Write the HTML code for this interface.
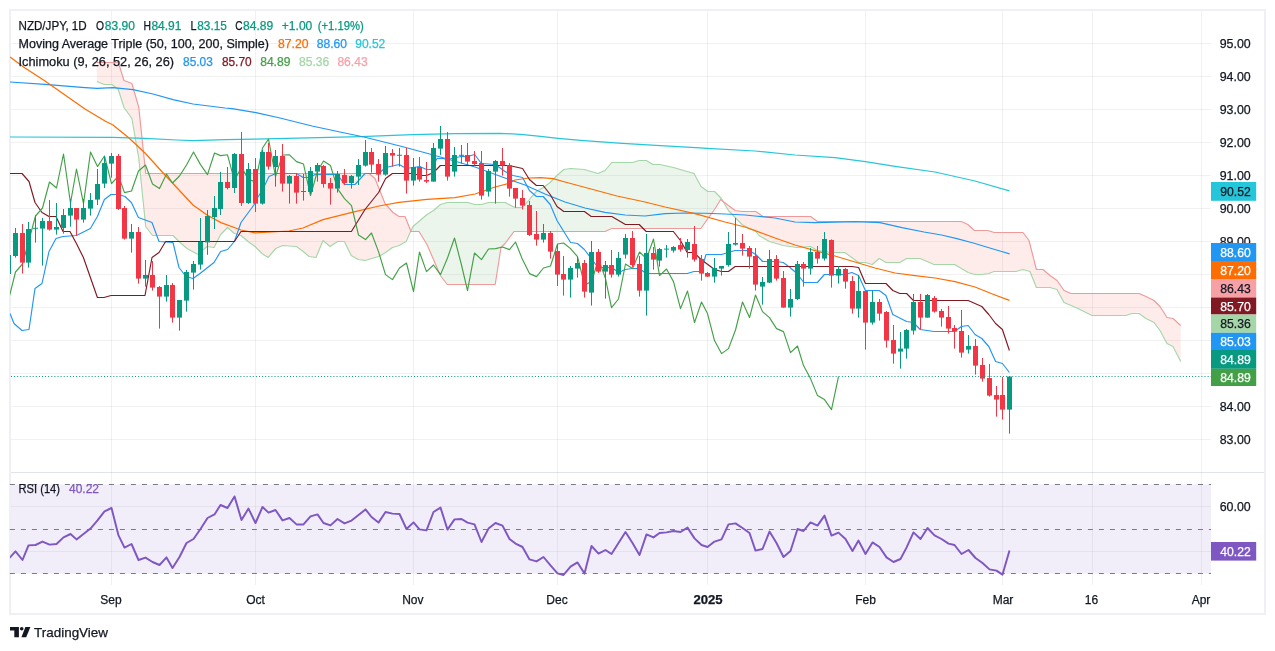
<!DOCTYPE html>
<html><head><meta charset="utf-8"><title>NZD/JPY</title>
<style>html,body{margin:0;padding:0;background:#fff;}body{width:1275px;height:651px;overflow:hidden;font-family:"Liberation Sans",sans-serif;}</style></head><body>
<svg width="1275" height="651" viewBox="0 0 1275 651" style="display:block;will-change:transform">
<defs>
<clipPath id="mainclip"><rect x="10" y="11" width="1201" height="461"/></clipPath>
<clipPath id="rsiclip"><rect x="10" y="473" width="1201" height="112"/></clipPath>
</defs>
<rect width="1275" height="651" fill="#ffffff"/>
<line x1="10" y1="472.5" x2="1265" y2="472.5" stroke="#e0e3eb" stroke-width="1"/>
<rect x="10" y="10" width="1255" height="604" fill="none" stroke="#eef0f5" stroke-width="2"/>
<line x1="11" y1="439.5" x2="1211" y2="439.5" stroke="rgba(42,46,57,0.065)" stroke-width="1"/>
<line x1="11" y1="406.5" x2="1211" y2="406.5" stroke="rgba(42,46,57,0.065)" stroke-width="1"/>
<line x1="11" y1="373.5" x2="1211" y2="373.5" stroke="rgba(42,46,57,0.065)" stroke-width="1"/>
<line x1="11" y1="340.5" x2="1211" y2="340.5" stroke="rgba(42,46,57,0.065)" stroke-width="1"/>
<line x1="11" y1="307.5" x2="1211" y2="307.5" stroke="rgba(42,46,57,0.065)" stroke-width="1"/>
<line x1="11" y1="274.5" x2="1211" y2="274.5" stroke="rgba(42,46,57,0.065)" stroke-width="1"/>
<line x1="11" y1="241.5" x2="1211" y2="241.5" stroke="rgba(42,46,57,0.065)" stroke-width="1"/>
<line x1="11" y1="208.5" x2="1211" y2="208.5" stroke="rgba(42,46,57,0.065)" stroke-width="1"/>
<line x1="11" y1="175.5" x2="1211" y2="175.5" stroke="rgba(42,46,57,0.065)" stroke-width="1"/>
<line x1="11" y1="142.5" x2="1211" y2="142.5" stroke="rgba(42,46,57,0.065)" stroke-width="1"/>
<line x1="11" y1="109.5" x2="1211" y2="109.5" stroke="rgba(42,46,57,0.065)" stroke-width="1"/>
<line x1="11" y1="76.5" x2="1211" y2="76.5" stroke="rgba(42,46,57,0.065)" stroke-width="1"/>
<line x1="11" y1="43.5" x2="1211" y2="43.5" stroke="rgba(42,46,57,0.065)" stroke-width="1"/>
<line x1="11" y1="506.5" x2="1211" y2="506.5" stroke="rgba(42,46,57,0.065)" stroke-width="1"/>
<line x1="11" y1="551.5" x2="1211" y2="551.5" stroke="rgba(42,46,57,0.065)" stroke-width="1"/>
<line x1="111.5" y1="11" x2="111.5" y2="585" stroke="rgba(42,46,57,0.065)" stroke-width="1"/>
<line x1="255.5" y1="11" x2="255.5" y2="585" stroke="rgba(42,46,57,0.065)" stroke-width="1"/>
<line x1="413.5" y1="11" x2="413.5" y2="585" stroke="rgba(42,46,57,0.065)" stroke-width="1"/>
<line x1="557.5" y1="11" x2="557.5" y2="585" stroke="rgba(42,46,57,0.065)" stroke-width="1"/>
<line x1="707.5" y1="11" x2="707.5" y2="585" stroke="rgba(42,46,57,0.065)" stroke-width="1"/>
<line x1="865.5" y1="11" x2="865.5" y2="585" stroke="rgba(42,46,57,0.065)" stroke-width="1"/>
<line x1="1002.5" y1="11" x2="1002.5" y2="585" stroke="rgba(42,46,57,0.065)" stroke-width="1"/>
<line x1="1092.5" y1="11" x2="1092.5" y2="585" stroke="rgba(42,46,57,0.065)" stroke-width="1"/>
<line x1="1201.5" y1="11" x2="1201.5" y2="585" stroke="rgba(42,46,57,0.065)" stroke-width="1"/>
<rect x="11" y="484.5" width="1200" height="89" fill="#7e57c2" fill-opacity="0.1"/>
<line x1="9.9" y1="484.5" x2="1211" y2="484.5" stroke="#787b86" stroke-width="1" stroke-dasharray="5 6"/>
<line x1="9.9" y1="529.5" x2="1211" y2="529.5" stroke="#787b86" stroke-width="1" stroke-dasharray="5 6"/>
<line x1="9.9" y1="573.5" x2="1211" y2="573.5" stroke="#787b86" stroke-width="1" stroke-dasharray="5 6"/>
<g clip-path="url(#mainclip)">
<polygon points="96.9,81.8 104.2,84.0 112.0,84.0 118.3,89.6 124.0,107.0 131.9,118.0 138.8,158.0 145.7,226.0 152.5,235.0 173.0,235.5 180.0,242.0 187.0,248.0 198.0,254.0 207.0,246.0 214.0,247.0 220.6,234.6 227.6,227.4 234.4,233.0 241.0,235.0 248.0,241.0 255.0,246.6 262.0,253.0 268.0,257.4 275.8,248.0 282.6,245.0 296.4,246.0 303.2,251.0 309.0,256.6 316.0,257.4 323.0,240.0 330.0,246.4 337.6,241.6 344.4,241.6 351.2,255.0 358.2,259.6 365.0,260.4 369.0,259.1 375.0,257.2 378.6,256.0 379.0,255.8 385.0,252.3 385.6,252.0 392.4,247.0 393.0,246.8 399.0,245.1 399.2,245.0 405.0,241.7 406.2,241.0 410.8,230.5 410.8,230.5 406.2,219.5 405.0,216.6 399.2,216.0 399.0,216.0 393.0,212.0 392.4,211.4 385.6,204.1 385.0,203.5 379.0,188.0 378.6,187.0 375.0,178.0 369.0,173.4 365.0,173.4 358.2,173.4 351.2,173.4 344.4,173.4 337.6,173.3 330.0,173.3 323.0,173.3 316.0,173.3 309.0,173.3 303.2,173.3 296.4,173.3 282.6,173.2 275.8,173.2 268.0,173.2 262.0,173.2 255.0,173.2 248.0,173.2 241.0,173.2 234.4,173.2 227.6,173.1 220.6,173.1 214.0,173.1 207.0,173.1 198.0,173.1 187.0,173.1 180.0,173.1 173.0,173.0 152.5,173.0 145.7,173.0 138.8,107.0 131.9,83.3 124.0,80.2 118.3,62.0 112.0,62.0 104.2,62.0 96.9,62.0" fill="#f44336" fill-opacity="0.1"/>
<polygon points="410.8,230.5 411.0,230.0 413.0,226.0 419.0,221.1 427.0,214.5 433.6,210.5 440.4,204.2 447.2,202.0 467.8,201.6 474.6,204.4 481.4,204.0 488.4,202.4 495.2,202.6 501.0,202.9 505.0,203.0 509.0,204.0 514.0,206.8 515.0,207.4 522.6,207.6 529.4,199.0 536.4,191.0 543.2,187.0 550.2,182.0 557.0,175.0 563.8,169.6 570.6,168.4 584.4,169.6 598.0,173.2 605.0,170.0 611.8,162.6 632.4,162.6 639.2,160.6 646.2,160.0 653.0,164.4 659.8,164.4 673.4,167.0 694.0,173.0 701.0,186.0 707.8,191.4 714.6,191.4 720.6,197.2 721.4,198.0 723.3,201.2 723.3,201.2 721.4,199.7 720.6,199.0 714.6,209.0 707.8,218.0 701.0,228.4 694.0,228.4 673.4,228.4 659.8,228.4 653.0,228.4 646.2,228.4 639.2,228.4 632.4,228.4 611.8,228.4 605.0,231.4 598.0,231.4 584.4,231.4 570.6,231.4 563.8,231.4 557.0,231.4 550.2,231.4 543.2,231.4 536.4,231.4 529.4,231.4 522.6,231.4 515.0,231.4 514.0,231.4 509.0,237.8 505.0,243.0 501.0,247.0 495.2,284.4 488.4,284.4 481.4,284.4 474.6,284.4 467.8,284.4 447.2,284.4 440.4,275.0 433.6,259.3 427.0,244.0 419.0,231.4 413.0,231.1 411.0,231.0 410.8,230.5" fill="#43a047" fill-opacity="0.1"/>
<polygon points="723.3,201.2 728.4,210.0 735.2,217.5 742.0,224.0 749.0,228.0 755.0,230.5 755.8,231.4 759.0,235.0 763.0,237.3 769.4,241.0 776.4,243.0 783.2,245.6 797.0,247.0 810.6,246.0 817.4,250.6 831.2,252.0 844.8,252.6 851.8,257.0 858.6,262.4 865.4,262.0 872.2,264.0 879.2,258.6 886.0,262.0 899.8,262.6 906.6,258.6 920.2,258.4 934.0,264.0 954.6,264.6 955.8,265.2 961.3,267.9 961.4,268.0 967.8,271.8 968.2,272.0 974.4,273.8 975.0,274.0 981.8,274.6 987.6,273.8 988.8,273.6 994.0,271.0 994.2,271.0 1016.0,271.0 1023.0,269.6 1029.0,271.1 1030.0,271.4 1036.4,287.0 1043.0,287.0 1050.0,287.0 1057.0,289.0 1064.0,302.4 1071.0,305.4 1078.0,308.0 1092.0,315.0 1106.0,315.6 1126.0,315.6 1132.0,313.0 1139.0,312.6 1146.0,318.0 1154.0,322.4 1160.0,330.0 1167.0,343.0 1173.0,346.0 1180.7,361.1 1180.7,325.8 1173.0,318.6 1167.0,317.4 1160.0,306.4 1154.0,300.0 1146.0,296.0 1139.0,293.0 1132.0,293.0 1126.0,293.0 1106.0,293.0 1092.0,293.0 1078.0,293.0 1071.0,293.0 1064.0,290.0 1057.0,280.0 1050.0,275.0 1043.0,269.4 1036.4,269.0 1030.0,243.9 1029.0,240.0 1023.0,232.4 1016.0,232.4 994.2,232.4 994.0,232.3 988.8,230.6 987.6,230.2 981.8,230.2 975.0,230.2 974.4,230.2 968.2,224.7 967.8,224.3 961.4,221.8 961.3,221.8 955.8,221.0 954.6,221.0 934.0,221.0 920.2,221.0 906.6,221.0 899.8,221.0 886.0,221.0 879.2,221.0 872.2,221.0 865.4,221.0 858.6,221.0 851.8,221.0 844.8,221.0 831.2,221.0 817.4,221.0 810.6,216.0 797.0,216.0 783.2,216.0 776.4,216.0 769.4,216.0 763.0,216.0 759.0,213.8 755.8,212.0 755.0,212.0 749.0,211.8 742.0,211.6 735.2,210.0 728.4,205.5 723.3,201.2" fill="#f44336" fill-opacity="0.1"/>
<polyline points="96.9,81.5 104.2,84.5 112.0,84.5 118.3,89.5 124.0,107.5 131.9,118.5 138.8,158.5 145.7,226.5 152.5,235.5 173.0,235.5 180.0,242.5 187.0,248.5 198.0,254.5 207.0,246.5 214.0,247.5 220.6,234.5 227.6,227.5 234.4,233.5 241.0,235.5 248.0,241.5 255.0,246.5 262.0,253.5 268.0,257.5 275.8,248.5 282.6,245.5 296.4,246.5 303.2,251.5 309.0,256.5 316.0,257.5 323.0,240.5 330.0,246.5 337.6,241.5 344.4,241.5 351.2,255.5 358.2,259.5 365.0,260.5 378.6,256.5 385.6,252.5 392.4,247.5 399.2,245.5 406.2,241.5 411.0,230.5 413.0,226.5 427.0,214.5 433.6,210.5 440.4,204.5 447.2,202.5 467.8,202.5 474.6,204.5 481.4,204.5 488.4,202.5 505.0,202.5 509.0,204.5 515.0,207.5 522.6,207.5 529.4,199.5 536.4,191.5 543.2,187.5 550.2,182.5 557.0,175.5 563.8,169.5 570.6,168.5 584.4,169.5 598.0,173.5 605.0,170.5 611.8,162.5 632.4,162.5 639.2,160.5 646.2,160.5 653.0,164.5 659.8,164.5 673.4,167.5 694.0,173.5 701.0,186.5 707.8,191.5 714.6,191.5 721.4,198.5 728.4,210.5 735.2,217.5 742.0,224.5 749.0,228.5 755.0,230.5 759.0,235.5 769.4,241.5 776.4,243.5 783.2,245.5 797.0,247.5 810.6,246.5 817.4,250.5 831.2,252.5 844.8,252.5 851.8,257.5 858.6,262.5 865.4,262.5 872.2,264.5 879.2,258.5 886.0,262.5 899.8,262.5 906.6,258.5 920.2,258.5 934.0,264.5 954.6,264.5 961.4,268.5 968.2,272.5 975.0,274.5 981.8,274.5 988.8,273.5 994.0,271.5 1016.0,271.5 1023.0,269.5 1030.0,271.5 1036.4,287.5 1050.0,287.5 1057.0,289.5 1064.0,302.5 1071.0,305.5 1078.0,308.5 1092.0,315.5 1106.0,315.5 1126.0,315.5 1132.0,313.5 1139.0,313.5 1146.0,318.5 1154.0,322.5 1160.0,330.5 1167.0,343.5 1173.0,346.5 1180.7,361.5" fill="none" stroke="#a5d6a7" stroke-width="1.15" stroke-linejoin="round"/>
<polyline points="96.9,62.5 118.3,62.5 124.0,80.5 131.9,83.5 138.8,107.5 145.7,173.5 369.0,173.5 375.0,178.5 379.0,188.5 385.0,203.5 393.0,212.5 399.0,216.5 405.0,216.5 411.0,231.5 419.0,231.5 427.0,244.5 440.4,275.5 447.2,284.5 495.2,284.5 501.0,247.5 505.0,243.5 514.0,231.5 605.0,231.5 611.8,228.5 701.0,228.5 707.8,218.5 714.6,209.5 720.6,199.5 728.4,205.5 735.2,210.5 742.0,211.5 755.8,211.5 763.0,216.5 810.6,216.5 817.4,221.5 955.8,221.5 961.3,221.5 967.8,224.5 974.4,230.5 987.6,230.5 994.2,232.5 1023.0,232.5 1029.0,240.5 1036.4,269.5 1043.0,269.5 1050.0,275.5 1057.0,280.5 1064.0,290.5 1071.0,293.5 1139.0,293.5 1146.0,296.5 1154.0,300.5 1160.0,306.5 1167.0,317.5 1173.0,318.5 1180.7,325.5" fill="none" stroke="#ef9a9a" stroke-width="1.15" stroke-linejoin="round"/>
<polyline points="10.0,137.0 113.0,137.4 145.0,138.4 177.0,140.0 193.0,140.6 225.0,139.6 255.0,139.2 361.0,136.6 380.0,135.8 412.6,134.6 455.0,133.6 500.0,133.3 520.6,134.3 540.6,136.3 558.2,138.3 580.8,140.4 618.5,143.1 656.0,145.4 700.0,147.9 707.0,148.4 755.0,151.0 795.0,155.0 835.0,157.6 865.4,161.6 895.0,166.4 935.0,172.0 975.0,181.0 1009.4,190.8" fill="none" stroke="#26c6da" stroke-width="1.2" stroke-linejoin="round"/>
<polyline points="10.0,82.0 45.0,84.4 85.0,87.6 97.0,88.4 113.0,87.6 133.0,89.6 153.0,94.0 173.0,99.6 193.0,104.0 225.0,108.0 232.0,108.6 256.0,112.6 280.0,118.0 312.0,126.0 340.0,132.0 364.0,137.0 400.0,146.0 426.0,153.0 444.0,158.0 475.0,167.0 505.0,178.0 525.0,185.0 545.0,194.0 565.0,202.0 585.0,208.0 605.0,212.4 625.0,215.0 645.0,216.0 665.0,213.6 685.0,213.0 705.0,213.2 725.0,214.0 745.0,215.0 755.0,216.0 775.0,218.0 795.0,222.0 815.0,222.6 855.0,221.6 875.0,222.4 880.0,222.6 902.0,227.6 924.0,232.0 941.5,235.0 956.9,238.6 973.3,243.0 989.8,248.0 1000.8,251.2 1009.6,253.9" fill="none" stroke="#2196f3" stroke-width="1.15" stroke-linejoin="round"/>
<polyline points="10.0,57.0 25.0,68.0 45.0,81.0 65.0,95.0 85.0,109.0 105.0,121.0 113.0,125.0 129.0,138.0 145.0,153.0 165.0,175.0 193.0,205.0 207.0,215.0 221.0,222.6 241.0,230.0 255.0,232.8 289.0,231.0 303.0,228.0 323.0,219.6 351.0,212.6 379.0,206.0 399.0,202.4 427.0,199.4 455.0,197.6 475.0,194.0 495.0,187.0 510.0,183.0 515.0,180.0 529.0,178.0 541.0,177.6 553.0,178.6 565.0,182.0 591.0,189.0 617.0,196.0 645.0,202.0 665.0,207.0 695.0,213.6 725.0,222.0 745.0,227.0 755.0,230.6 775.0,238.0 795.0,245.0 815.0,250.6 835.0,256.0 855.0,262.0 875.0,268.0 895.0,273.0 915.0,275.6 935.0,278.0 955.0,281.6 975.0,287.0 995.0,295.0 1009.4,300.4" fill="none" stroke="#ff6d00" stroke-width="1.25" stroke-linejoin="round"/>
<polyline points="10.0,313.5 14.0,323.5 22.0,330.5 29.0,329.5 35.0,288.5 42.0,283.5 49.0,251.5 56.0,238.5 63.0,236.5 76.4,235.5 90.4,228.5 97.4,216.5 104.4,199.5 111.0,194.5 118.4,194.5 125.0,196.5 131.4,202.5 138.4,217.5 152.0,222.5 159.0,241.5 173.0,242.5 179.0,267.5 186.0,276.5 193.0,278.5 200.0,273.5 214.0,262.5 220.6,251.5 227.6,249.5 234.4,241.5 241.0,222.5 255.0,203.5 257.0,198.5 262.2,190.5 269.0,176.5 275.8,173.5 296.4,173.5 303.2,177.5 310.0,177.5 315.0,174.5 337.6,174.5 344.4,184.5 355.0,184.5 365.0,173.5 378.6,173.5 385.6,167.5 399.2,164.5 406.2,168.5 419.8,166.5 426.6,169.5 431.0,169.5 437.0,158.5 443.0,158.5 447.2,159.5 461.0,156.5 467.8,156.5 474.6,154.5 481.4,163.5 495.2,164.5 505.0,171.5 513.0,175.5 522.6,177.5 529.4,190.5 536.4,196.5 543.2,196.5 550.2,204.5 557.0,220.5 563.8,231.5 570.6,242.5 577.4,243.5 584.4,249.5 591.2,258.5 598.0,267.5 611.8,267.5 618.6,272.5 625.4,269.5 632.4,268.5 639.2,268.5 646.2,273.5 687.2,273.5 694.0,271.5 701.0,271.5 706.0,254.5 721.4,254.5 728.4,252.5 735.2,250.5 749.0,250.5 755.8,254.5 762.6,261.5 776.4,261.5 783.2,262.5 790.0,267.5 797.0,273.5 803.8,282.5 810.6,282.5 817.4,282.5 824.4,274.5 844.8,274.5 851.8,272.5 858.6,275.5 865.4,290.5 879.2,290.5 886.0,295.5 892.8,314.5 906.6,321.5 913.4,322.5 920.2,329.5 934.0,331.5 954.6,331.5 961.4,326.5 968.2,325.5 975.0,334.5 981.8,338.5 988.8,346.5 995.6,361.5 1002.4,363.5 1009.4,372.5" fill="none" stroke="#2196f3" stroke-width="1.15" stroke-linejoin="round"/>
<polyline points="10.0,173.5 22.0,173.5 29.0,181.5 35.0,202.5 42.0,212.5 49.0,216.5 56.0,216.5 63.0,231.5 70.0,231.5 76.4,243.5 83.4,257.5 90.4,277.5 97.4,297.5 104.0,297.5 111.0,295.5 145.0,295.5 152.0,257.5 159.0,252.5 165.6,241.5 234.4,241.5 241.0,231.5 351.4,231.5 358.2,220.5 365.0,209.5 378.6,192.5 385.6,178.5 392.4,173.5 399.2,173.5 413.0,173.5 419.8,175.5 426.6,175.5 433.6,172.5 440.4,165.5 509.0,165.5 522.6,168.5 529.4,179.5 536.4,185.5 543.2,185.5 550.2,194.5 557.0,206.5 563.8,211.5 584.4,211.5 591.2,216.5 611.8,216.5 618.6,220.5 625.4,224.5 639.2,224.5 646.2,231.5 673.4,231.5 680.4,240.5 687.2,252.5 694.0,252.5 701.0,259.5 714.6,269.5 721.4,271.5 728.4,271.5 735.2,266.5 844.8,266.5 851.8,266.5 858.6,267.5 865.4,283.5 886.0,283.5 892.8,290.5 899.8,293.5 906.6,293.5 913.4,300.5 968.2,300.5 981.8,306.5 988.8,314.5 995.6,323.5 1002.4,329.5 1009.4,350.5" fill="none" stroke="#801922" stroke-width="1.15" stroke-linejoin="round"/>
<polyline points="8.5,300.0 15.5,272.0 22.5,264.0 28.5,242.0 35.5,216.0 42.5,208.0 49.5,182.0 56.5,188.0 63.5,154.0 70.5,203.0 76.5,169.0 83.5,203.6 90.5,152.0 97.5,166.6 104.5,156.0 111.5,183.6 118.5,176.0 124.5,192.6 131.5,191.0 138.5,171.0 145.5,165.0 152.5,184.0 159.5,188.6 166.5,174.0 172.5,183.0 179.5,176.0 186.5,165.0 193.5,152.0 200.5,164.6 207.5,174.6 214.5,153.0 220.5,155.6 227.5,154.8 234.5,180.6 241.5,167.0 248.5,179.6 255.5,181.6 262.5,148.0 268.5,139.0 275.5,176.6 282.5,155.0 289.5,154.8 296.5,161.6 303.5,164.0 310.5,195.6 317.5,171.0 323.5,161.0 330.5,165.6 337.5,188.6 344.5,198.6 351.5,205.6 358.5,235.0 365.5,239.6 371.5,233.0 378.5,251.6 385.5,274.6 392.5,279.6 399.5,268.0 406.5,263.0 413.5,291.6 419.5,252.0 426.5,271.6 433.5,265.0 440.5,274.6 447.5,258.0 454.5,238.0 461.5,265.0 467.5,290.6 474.5,253.0 481.5,259.6 488.5,249.0 495.5,248.6 502.5,247.0 509.5,249.6 515.5,242.0 522.5,259.6 529.5,273.6 536.5,276.6 543.5,268.0 550.5,266.0 557.5,244.0 563.5,243.0 570.5,248.6 577.5,256.6 584.5,284.6 591.5,282.0 598.5,259.0 605.5,278.6 611.5,307.6 618.5,299.0 625.5,264.0 632.5,268.6 639.5,252.0 646.5,258.6 653.5,239.0 659.5,275.6 666.5,269.0 673.5,281.6 680.5,308.6 687.5,291.0 694.5,322.6 701.5,302.0 707.5,313.6 714.5,340.6 721.5,353.6 728.5,348.6 735.5,330.0 742.5,302.0 749.5,317.6 755.5,295.0 762.5,311.6 769.5,317.6 776.5,328.6 783.5,331.6 790.5,352.6 797.5,346.0 803.5,365.6 810.5,378.6 817.5,395.6 824.5,399.6 831.5,409.6 838.5,376.6" fill="none" stroke="#43a047" stroke-width="1.15" stroke-linejoin="round"/>
<rect x="8" y="250.0" width="1" height="28.0" fill="#089981"/>
<rect x="6" y="255.0" width="5" height="19.0" fill="#089981"/>
<rect x="15" y="228.0" width="1" height="29.6" fill="#089981"/>
<rect x="13" y="233.0" width="5" height="23.0" fill="#089981"/>
<rect x="22" y="224.0" width="1" height="49.6" fill="#f23645"/>
<rect x="20" y="233.0" width="5" height="29.6" fill="#f23645"/>
<rect x="28" y="222.0" width="1" height="45.6" fill="#089981"/>
<rect x="26" y="229.0" width="5" height="33.6" fill="#089981"/>
<rect x="35" y="215.6" width="1" height="27.0" fill="#089981"/>
<rect x="33" y="227.8" width="5" height="1.0" fill="#089981"/>
<rect x="42" y="218.0" width="1" height="47.6" fill="#089981"/>
<rect x="40" y="221.0" width="5" height="7.6" fill="#089981"/>
<rect x="49" y="200.0" width="1" height="30.6" fill="#f23645"/>
<rect x="47" y="221.0" width="5" height="8.6" fill="#f23645"/>
<rect x="56" y="203.0" width="1" height="31.6" fill="#089981"/>
<rect x="54" y="227.0" width="5" height="2.6" fill="#089981"/>
<rect x="63" y="209.0" width="1" height="24.6" fill="#089981"/>
<rect x="61" y="215.0" width="5" height="13.0" fill="#089981"/>
<rect x="70" y="199.0" width="1" height="27.6" fill="#089981"/>
<rect x="68" y="208.0" width="5" height="7.6" fill="#089981"/>
<rect x="76" y="208.0" width="1" height="28.0" fill="#f23645"/>
<rect x="74" y="208.0" width="5" height="11.6" fill="#f23645"/>
<rect x="83" y="199.0" width="1" height="23.6" fill="#089981"/>
<rect x="81" y="208.0" width="5" height="11.6" fill="#089981"/>
<rect x="90" y="193.0" width="1" height="22.6" fill="#089981"/>
<rect x="88" y="200.0" width="5" height="8.6" fill="#089981"/>
<rect x="97" y="169.0" width="1" height="36.0" fill="#089981"/>
<rect x="95" y="184.0" width="5" height="15.6" fill="#089981"/>
<rect x="104" y="156.0" width="1" height="32.0" fill="#089981"/>
<rect x="102" y="163.0" width="5" height="20.6" fill="#089981"/>
<rect x="111" y="153.0" width="1" height="24.6" fill="#089981"/>
<rect x="109" y="156.0" width="5" height="7.6" fill="#089981"/>
<rect x="118" y="154.0" width="1" height="56.0" fill="#f23645"/>
<rect x="116" y="156.0" width="5" height="53.0" fill="#f23645"/>
<rect x="124" y="206.0" width="1" height="33.6" fill="#f23645"/>
<rect x="122" y="208.0" width="5" height="30.6" fill="#f23645"/>
<rect x="131" y="224.0" width="1" height="28.6" fill="#089981"/>
<rect x="129" y="232.0" width="5" height="6.6" fill="#089981"/>
<rect x="138" y="227.0" width="1" height="56.6" fill="#f23645"/>
<rect x="136" y="232.0" width="5" height="46.6" fill="#f23645"/>
<rect x="145" y="260.0" width="1" height="26.6" fill="#089981"/>
<rect x="143" y="275.0" width="5" height="3.6" fill="#089981"/>
<rect x="152" y="261.0" width="1" height="29.6" fill="#f23645"/>
<rect x="150" y="275.0" width="5" height="12.6" fill="#f23645"/>
<rect x="159" y="286.0" width="1" height="42.6" fill="#f23645"/>
<rect x="157" y="287.0" width="5" height="9.6" fill="#f23645"/>
<rect x="166" y="275.0" width="1" height="26.6" fill="#089981"/>
<rect x="164" y="285.0" width="5" height="11.6" fill="#089981"/>
<rect x="172" y="283.0" width="1" height="39.6" fill="#f23645"/>
<rect x="170" y="285.0" width="5" height="32.6" fill="#f23645"/>
<rect x="179" y="300.0" width="1" height="30.6" fill="#089981"/>
<rect x="177" y="300.0" width="5" height="17.6" fill="#089981"/>
<rect x="186" y="270.0" width="1" height="41.6" fill="#089981"/>
<rect x="184" y="272.0" width="5" height="28.6" fill="#089981"/>
<rect x="193" y="261.0" width="1" height="28.6" fill="#089981"/>
<rect x="191" y="264.0" width="5" height="8.6" fill="#089981"/>
<rect x="200" y="218.0" width="1" height="51.6" fill="#089981"/>
<rect x="198" y="242.0" width="5" height="22.6" fill="#089981"/>
<rect x="207" y="210.0" width="1" height="44.8" fill="#089981"/>
<rect x="205" y="216.0" width="5" height="26.4" fill="#089981"/>
<rect x="214" y="196.0" width="1" height="33.0" fill="#089981"/>
<rect x="212" y="208.0" width="5" height="9.0" fill="#089981"/>
<rect x="220" y="172.0" width="1" height="43.0" fill="#089981"/>
<rect x="218" y="182.0" width="5" height="27.0" fill="#089981"/>
<rect x="227" y="167.0" width="1" height="22.4" fill="#f23645"/>
<rect x="225" y="182.0" width="5" height="6.0" fill="#f23645"/>
<rect x="234" y="153.0" width="1" height="40.0" fill="#089981"/>
<rect x="232" y="154.0" width="5" height="34.0" fill="#089981"/>
<rect x="241" y="132.0" width="1" height="74.0" fill="#f23645"/>
<rect x="239" y="154.0" width="5" height="49.0" fill="#f23645"/>
<rect x="248" y="163.0" width="1" height="41.0" fill="#089981"/>
<rect x="246" y="169.0" width="5" height="34.0" fill="#089981"/>
<rect x="255" y="158.0" width="1" height="54.0" fill="#f23645"/>
<rect x="253" y="169.0" width="5" height="34.6" fill="#f23645"/>
<rect x="262" y="150.0" width="1" height="54.6" fill="#089981"/>
<rect x="260" y="152.0" width="5" height="51.6" fill="#089981"/>
<rect x="268" y="143.0" width="1" height="26.6" fill="#f23645"/>
<rect x="266" y="152.0" width="5" height="14.6" fill="#f23645"/>
<rect x="275" y="150.0" width="1" height="36.6" fill="#089981"/>
<rect x="273" y="156.0" width="5" height="11.0" fill="#089981"/>
<rect x="282" y="144.0" width="1" height="47.6" fill="#f23645"/>
<rect x="280" y="156.0" width="5" height="27.6" fill="#f23645"/>
<rect x="289" y="175.0" width="1" height="28.6" fill="#089981"/>
<rect x="287" y="176.0" width="5" height="7.6" fill="#089981"/>
<rect x="296" y="173.0" width="1" height="30.6" fill="#f23645"/>
<rect x="294" y="176.0" width="5" height="16.6" fill="#f23645"/>
<rect x="303" y="174.0" width="1" height="26.6" fill="#089981"/>
<rect x="301" y="191.0" width="5" height="1.0" fill="#089981"/>
<rect x="310" y="167.0" width="1" height="27.0" fill="#089981"/>
<rect x="308" y="171.0" width="5" height="21.0" fill="#089981"/>
<rect x="317" y="163.0" width="1" height="18.6" fill="#089981"/>
<rect x="315" y="165.0" width="5" height="6.6" fill="#089981"/>
<rect x="323" y="165.0" width="1" height="22.6" fill="#f23645"/>
<rect x="321" y="166.0" width="5" height="18.0" fill="#f23645"/>
<rect x="330" y="178.0" width="1" height="26.6" fill="#f23645"/>
<rect x="328" y="183.0" width="5" height="5.6" fill="#f23645"/>
<rect x="337" y="171.0" width="1" height="21.6" fill="#089981"/>
<rect x="335" y="174.0" width="5" height="14.6" fill="#089981"/>
<rect x="344" y="169.0" width="1" height="16.0" fill="#f23645"/>
<rect x="342" y="175.0" width="5" height="8.0" fill="#f23645"/>
<rect x="351" y="175.0" width="1" height="13.6" fill="#089981"/>
<rect x="349" y="176.0" width="5" height="7.0" fill="#089981"/>
<rect x="358" y="159.0" width="1" height="26.0" fill="#089981"/>
<rect x="356" y="165.0" width="5" height="11.6" fill="#089981"/>
<rect x="365" y="140.0" width="1" height="26.6" fill="#089981"/>
<rect x="363" y="152.0" width="5" height="13.6" fill="#089981"/>
<rect x="371" y="148.0" width="1" height="24.6" fill="#f23645"/>
<rect x="369" y="152.0" width="5" height="12.6" fill="#f23645"/>
<rect x="378" y="159.0" width="1" height="22.6" fill="#f23645"/>
<rect x="376" y="164.0" width="5" height="10.6" fill="#f23645"/>
<rect x="385" y="146.0" width="1" height="29.6" fill="#089981"/>
<rect x="383" y="153.0" width="5" height="21.6" fill="#089981"/>
<rect x="392" y="149.0" width="1" height="17.6" fill="#f23645"/>
<rect x="390" y="153.0" width="5" height="2.6" fill="#f23645"/>
<rect x="399" y="148.0" width="1" height="18.6" fill="#089981"/>
<rect x="397" y="154.8" width="5" height="1.0" fill="#089981"/>
<rect x="406" y="148.0" width="1" height="45.6" fill="#f23645"/>
<rect x="404" y="155.0" width="5" height="25.6" fill="#f23645"/>
<rect x="413" y="158.0" width="1" height="27.6" fill="#089981"/>
<rect x="411" y="167.0" width="5" height="13.6" fill="#089981"/>
<rect x="419" y="157.0" width="1" height="24.6" fill="#f23645"/>
<rect x="417" y="167.0" width="5" height="12.6" fill="#f23645"/>
<rect x="426" y="162.0" width="1" height="21.0" fill="#f23645"/>
<rect x="424" y="180.0" width="5" height="1.6" fill="#f23645"/>
<rect x="433" y="143.0" width="1" height="38.6" fill="#089981"/>
<rect x="431" y="148.0" width="5" height="33.6" fill="#089981"/>
<rect x="440" y="126.0" width="1" height="29.0" fill="#089981"/>
<rect x="438" y="139.0" width="5" height="9.6" fill="#089981"/>
<rect x="447" y="132.0" width="1" height="48.6" fill="#f23645"/>
<rect x="445" y="139.0" width="5" height="37.6" fill="#f23645"/>
<rect x="454" y="147.0" width="1" height="29.6" fill="#089981"/>
<rect x="452" y="155.0" width="5" height="16.6" fill="#089981"/>
<rect x="461" y="145.0" width="1" height="18.6" fill="#089981"/>
<rect x="459" y="154.8" width="5" height="1.0" fill="#089981"/>
<rect x="467" y="143.0" width="1" height="22.0" fill="#f23645"/>
<rect x="465" y="155.0" width="5" height="6.6" fill="#f23645"/>
<rect x="474" y="151.0" width="1" height="14.6" fill="#f23645"/>
<rect x="472" y="161.0" width="5" height="3.0" fill="#f23645"/>
<rect x="481" y="151.0" width="1" height="48.6" fill="#f23645"/>
<rect x="479" y="163.0" width="5" height="32.6" fill="#f23645"/>
<rect x="488" y="169.0" width="1" height="27.6" fill="#089981"/>
<rect x="486" y="171.0" width="5" height="20.6" fill="#089981"/>
<rect x="495" y="160.0" width="1" height="43.6" fill="#089981"/>
<rect x="493" y="161.0" width="5" height="10.6" fill="#089981"/>
<rect x="502" y="148.0" width="1" height="27.6" fill="#f23645"/>
<rect x="500" y="161.0" width="5" height="4.6" fill="#f23645"/>
<rect x="509" y="163.0" width="1" height="33.6" fill="#f23645"/>
<rect x="507" y="165.0" width="5" height="23.6" fill="#f23645"/>
<rect x="515" y="188.0" width="1" height="19.6" fill="#f23645"/>
<rect x="513" y="188.0" width="5" height="10.6" fill="#f23645"/>
<rect x="522" y="190.0" width="1" height="19.6" fill="#f23645"/>
<rect x="520" y="198.0" width="5" height="7.6" fill="#f23645"/>
<rect x="529" y="201.0" width="1" height="35.0" fill="#f23645"/>
<rect x="527" y="205.0" width="5" height="30.0" fill="#f23645"/>
<rect x="536" y="211.0" width="1" height="34.6" fill="#f23645"/>
<rect x="534" y="234.0" width="5" height="5.6" fill="#f23645"/>
<rect x="543" y="224.0" width="1" height="18.6" fill="#089981"/>
<rect x="541" y="233.0" width="5" height="6.6" fill="#089981"/>
<rect x="550" y="231.0" width="1" height="27.6" fill="#f23645"/>
<rect x="548" y="233.0" width="5" height="18.6" fill="#f23645"/>
<rect x="557" y="244.0" width="1" height="42.0" fill="#f23645"/>
<rect x="555" y="251.0" width="5" height="23.6" fill="#f23645"/>
<rect x="563" y="256.0" width="1" height="39.6" fill="#f23645"/>
<rect x="561" y="274.0" width="5" height="5.6" fill="#f23645"/>
<rect x="570" y="266.0" width="1" height="31.6" fill="#089981"/>
<rect x="568" y="268.0" width="5" height="11.6" fill="#089981"/>
<rect x="577" y="257.0" width="1" height="20.6" fill="#089981"/>
<rect x="575" y="263.0" width="5" height="5.6" fill="#089981"/>
<rect x="584" y="260.0" width="1" height="37.6" fill="#f23645"/>
<rect x="582" y="263.0" width="5" height="28.6" fill="#f23645"/>
<rect x="591" y="241.0" width="1" height="64.6" fill="#089981"/>
<rect x="589" y="252.0" width="5" height="40.6" fill="#089981"/>
<rect x="598" y="249.0" width="1" height="24.0" fill="#f23645"/>
<rect x="596" y="252.0" width="5" height="19.6" fill="#f23645"/>
<rect x="605" y="261.0" width="1" height="37.6" fill="#089981"/>
<rect x="603" y="265.0" width="5" height="6.6" fill="#089981"/>
<rect x="611" y="250.0" width="1" height="27.6" fill="#f23645"/>
<rect x="609" y="265.0" width="5" height="9.6" fill="#f23645"/>
<rect x="618" y="252.0" width="1" height="24.6" fill="#089981"/>
<rect x="616" y="258.0" width="5" height="16.6" fill="#089981"/>
<rect x="625" y="234.0" width="1" height="24.6" fill="#089981"/>
<rect x="623" y="238.0" width="5" height="16.6" fill="#089981"/>
<rect x="632" y="231.0" width="1" height="36.0" fill="#f23645"/>
<rect x="630" y="238.0" width="5" height="27.0" fill="#f23645"/>
<rect x="639" y="256.0" width="1" height="40.6" fill="#f23645"/>
<rect x="637" y="264.0" width="5" height="26.6" fill="#f23645"/>
<rect x="646" y="234.0" width="1" height="81.6" fill="#089981"/>
<rect x="644" y="253.0" width="5" height="37.6" fill="#089981"/>
<rect x="653" y="247.0" width="1" height="22.6" fill="#f23645"/>
<rect x="651" y="253.0" width="5" height="6.6" fill="#f23645"/>
<rect x="659" y="248.0" width="1" height="18.6" fill="#089981"/>
<rect x="657" y="249.0" width="5" height="11.6" fill="#089981"/>
<rect x="666" y="245.0" width="1" height="12.6" fill="#089981"/>
<rect x="664" y="248.6" width="5" height="1.0" fill="#089981"/>
<rect x="673" y="246.0" width="1" height="6.6" fill="#089981"/>
<rect x="671" y="247.0" width="5" height="3.6" fill="#089981"/>
<rect x="680" y="238.0" width="1" height="13.6" fill="#f23645"/>
<rect x="678" y="245.0" width="5" height="4.6" fill="#f23645"/>
<rect x="687" y="239.0" width="1" height="18.6" fill="#089981"/>
<rect x="685" y="242.0" width="5" height="8.0" fill="#089981"/>
<rect x="694" y="226.0" width="1" height="35.6" fill="#f23645"/>
<rect x="692" y="244.0" width="5" height="15.6" fill="#f23645"/>
<rect x="701" y="255.0" width="1" height="25.6" fill="#f23645"/>
<rect x="699" y="259.0" width="5" height="14.6" fill="#f23645"/>
<rect x="707" y="272.0" width="1" height="5.0" fill="#f23645"/>
<rect x="705" y="273.0" width="5" height="3.6" fill="#f23645"/>
<rect x="714" y="258.0" width="1" height="24.6" fill="#089981"/>
<rect x="712" y="268.0" width="5" height="8.6" fill="#089981"/>
<rect x="721" y="266.0" width="1" height="9.6" fill="#089981"/>
<rect x="719" y="266.0" width="5" height="2.6" fill="#089981"/>
<rect x="728" y="232.0" width="1" height="34.6" fill="#089981"/>
<rect x="726" y="244.0" width="5" height="21.0" fill="#089981"/>
<rect x="735" y="218.0" width="1" height="27.6" fill="#089981"/>
<rect x="733" y="243.0" width="5" height="1.6" fill="#089981"/>
<rect x="742" y="234.0" width="1" height="21.6" fill="#f23645"/>
<rect x="740" y="243.0" width="5" height="5.6" fill="#f23645"/>
<rect x="749" y="246.0" width="1" height="22.6" fill="#f23645"/>
<rect x="747" y="248.0" width="5" height="8.6" fill="#f23645"/>
<rect x="755" y="248.0" width="1" height="42.6" fill="#f23645"/>
<rect x="753" y="256.0" width="5" height="28.6" fill="#f23645"/>
<rect x="762" y="277.0" width="1" height="27.6" fill="#089981"/>
<rect x="760" y="282.0" width="5" height="4.6" fill="#089981"/>
<rect x="769" y="250.0" width="1" height="33.0" fill="#089981"/>
<rect x="767" y="259.0" width="5" height="23.6" fill="#089981"/>
<rect x="776" y="255.0" width="1" height="25.6" fill="#f23645"/>
<rect x="774" y="259.0" width="5" height="19.6" fill="#f23645"/>
<rect x="783" y="271.0" width="1" height="36.6" fill="#f23645"/>
<rect x="781" y="278.0" width="5" height="29.6" fill="#f23645"/>
<rect x="790" y="289.0" width="1" height="27.6" fill="#089981"/>
<rect x="788" y="299.0" width="5" height="8.6" fill="#089981"/>
<rect x="797" y="261.0" width="1" height="39.0" fill="#089981"/>
<rect x="795" y="264.0" width="5" height="35.0" fill="#089981"/>
<rect x="803" y="262.0" width="1" height="24.6" fill="#f23645"/>
<rect x="801" y="264.0" width="5" height="4.6" fill="#f23645"/>
<rect x="810" y="248.0" width="1" height="26.6" fill="#089981"/>
<rect x="808" y="252.0" width="5" height="16.6" fill="#089981"/>
<rect x="817" y="246.0" width="1" height="17.6" fill="#f23645"/>
<rect x="815" y="252.0" width="5" height="6.6" fill="#f23645"/>
<rect x="824" y="232.0" width="1" height="28.6" fill="#089981"/>
<rect x="822" y="239.0" width="5" height="19.6" fill="#089981"/>
<rect x="831" y="239.4" width="1" height="48.2" fill="#f23645"/>
<rect x="829" y="240.0" width="5" height="35.6" fill="#f23645"/>
<rect x="838" y="266.0" width="1" height="17.6" fill="#089981"/>
<rect x="836" y="269.0" width="5" height="6.6" fill="#089981"/>
<rect x="845" y="268.0" width="1" height="20.6" fill="#f23645"/>
<rect x="843" y="269.0" width="5" height="12.6" fill="#f23645"/>
<rect x="852" y="276.0" width="1" height="37.6" fill="#f23645"/>
<rect x="850" y="281.0" width="5" height="27.6" fill="#f23645"/>
<rect x="858" y="275.0" width="1" height="42.6" fill="#089981"/>
<rect x="856" y="291.0" width="5" height="17.6" fill="#089981"/>
<rect x="865" y="291.0" width="1" height="58.6" fill="#f23645"/>
<rect x="863" y="291.0" width="5" height="31.6" fill="#f23645"/>
<rect x="872" y="291.0" width="1" height="33.6" fill="#089981"/>
<rect x="870" y="302.0" width="5" height="20.6" fill="#089981"/>
<rect x="879" y="299.0" width="1" height="21.6" fill="#f23645"/>
<rect x="877" y="302.0" width="5" height="11.6" fill="#f23645"/>
<rect x="886" y="311.0" width="1" height="36.6" fill="#f23645"/>
<rect x="884" y="312.0" width="5" height="28.6" fill="#f23645"/>
<rect x="893" y="325.0" width="1" height="38.6" fill="#f23645"/>
<rect x="891" y="340.0" width="5" height="13.6" fill="#f23645"/>
<rect x="900" y="332.0" width="1" height="36.6" fill="#089981"/>
<rect x="898" y="348.6" width="5" height="3.0" fill="#089981"/>
<rect x="906" y="329.0" width="1" height="29.6" fill="#089981"/>
<rect x="904" y="330.0" width="5" height="18.6" fill="#089981"/>
<rect x="913" y="294.0" width="1" height="40.6" fill="#089981"/>
<rect x="911" y="302.0" width="5" height="28.6" fill="#089981"/>
<rect x="920" y="294.0" width="1" height="35.6" fill="#f23645"/>
<rect x="918" y="302.0" width="5" height="15.6" fill="#f23645"/>
<rect x="927" y="294.0" width="1" height="23.6" fill="#089981"/>
<rect x="925" y="295.0" width="5" height="22.6" fill="#089981"/>
<rect x="934" y="296.0" width="1" height="16.6" fill="#f23645"/>
<rect x="932" y="298.0" width="5" height="13.6" fill="#f23645"/>
<rect x="941" y="309.0" width="1" height="17.6" fill="#f23645"/>
<rect x="939" y="311.0" width="5" height="6.6" fill="#f23645"/>
<rect x="948" y="306.0" width="1" height="27.6" fill="#f23645"/>
<rect x="946" y="317.0" width="5" height="11.6" fill="#f23645"/>
<rect x="954" y="325.0" width="1" height="23.6" fill="#f23645"/>
<rect x="952" y="328.0" width="5" height="3.6" fill="#f23645"/>
<rect x="961" y="310.0" width="1" height="47.6" fill="#f23645"/>
<rect x="959" y="331.0" width="5" height="21.6" fill="#f23645"/>
<rect x="968" y="335.0" width="1" height="18.6" fill="#089981"/>
<rect x="966" y="346.0" width="5" height="3.6" fill="#089981"/>
<rect x="975" y="339.0" width="1" height="35.6" fill="#f23645"/>
<rect x="973" y="346.0" width="5" height="19.6" fill="#f23645"/>
<rect x="982" y="358.0" width="1" height="23.6" fill="#f23645"/>
<rect x="980" y="365.0" width="5" height="13.6" fill="#f23645"/>
<rect x="989" y="364.0" width="1" height="32.6" fill="#f23645"/>
<rect x="987" y="378.0" width="5" height="17.6" fill="#f23645"/>
<rect x="996" y="386.0" width="1" height="30.6" fill="#f23645"/>
<rect x="994" y="395.0" width="5" height="4.6" fill="#f23645"/>
<rect x="1002" y="377.0" width="1" height="42.6" fill="#f23645"/>
<rect x="1000" y="395.0" width="5" height="14.6" fill="#f23645"/>
<rect x="1009" y="376.0" width="1" height="57.6" fill="#089981"/>
<rect x="1007" y="376.6" width="5" height="33.0" fill="#089981"/>
</g>
<line x1="11" y1="376.5" x2="1211" y2="376.5" stroke="#089981" stroke-width="1" stroke-dasharray="1 2.1"/>
<g clip-path="url(#rsiclip)">
<polyline points="8.5,559.0 15.5,551.4 22.5,560.0 28.5,545.4 35.5,545.0 42.5,541.6 49.5,544.6 56.5,544.0 63.5,537.4 70.5,534.0 76.5,539.4 83.5,534.0 90.5,528.6 97.5,520.4 104.5,511.4 111.5,508.0 118.5,535.4 124.5,547.6 131.5,544.0 138.5,560.0 145.5,557.6 152.5,562.0 159.5,565.0 166.5,557.4 172.5,568.0 179.5,557.0 186.5,543.0 193.5,539.0 200.5,529.0 207.5,518.0 214.5,514.4 220.5,505.0 227.5,508.0 234.5,496.4 241.5,520.0 248.5,508.6 255.5,523.0 262.5,507.0 268.5,512.6 275.5,510.0 282.5,520.4 289.5,518.0 296.5,524.4 303.5,524.4 310.5,516.4 317.5,514.4 323.5,523.0 330.5,525.4 337.5,519.0 344.5,523.4 351.5,520.6 358.5,515.0 365.5,509.4 371.5,517.0 378.5,522.6 385.5,512.0 392.5,513.6 399.5,514.0 406.5,529.0 413.5,522.4 419.5,529.4 426.5,530.4 433.5,512.0 440.5,507.6 447.5,529.6 454.5,519.4 461.5,519.0 467.5,522.6 474.5,524.4 481.5,542.0 488.5,528.6 495.5,523.0 502.5,525.6 509.5,539.0 515.5,543.6 522.5,547.0 529.5,559.4 536.5,561.4 543.5,557.0 550.5,565.4 557.5,573.4 563.5,575.0 570.5,566.6 577.5,562.4 584.5,573.6 591.5,546.0 598.5,553.6 605.5,550.0 611.5,554.0 618.5,543.0 625.5,532.0 632.5,543.0 639.5,555.0 646.5,534.4 653.5,537.4 659.5,533.0 666.5,532.4 673.5,531.0 680.5,532.0 687.5,527.6 694.5,538.4 701.5,545.0 707.5,547.0 714.5,541.6 721.5,539.4 728.5,524.4 735.5,523.4 742.5,528.0 749.5,533.0 755.5,550.6 762.5,549.0 769.5,531.6 776.5,543.0 783.5,557.0 790.5,551.0 797.5,529.0 803.5,531.0 810.5,522.4 817.5,525.6 824.5,515.6 831.5,535.6 838.5,532.6 845.5,539.0 852.5,551.0 858.5,540.6 865.5,554.0 872.5,542.4 879.5,547.0 886.5,557.4 893.5,562.0 900.5,559.0 906.5,547.6 913.5,532.4 920.5,539.0 927.5,528.0 934.5,535.4 941.5,539.0 948.5,543.6 954.5,545.0 961.5,554.0 968.5,550.0 975.5,558.0 982.5,563.0 989.5,569.4 996.5,570.6 1002.5,574.6 1009.5,550.4" fill="none" stroke="#7e57c2" stroke-width="1.95" stroke-linejoin="round"/>
</g>
<text x="1219.7" y="443.8" font-family="Liberation Sans, sans-serif" font-size="12" fill="#131722" stroke="#131722" stroke-width="0.25" text-anchor="start" font-weight="normal" textLength="31" lengthAdjust="spacingAndGlyphs">83.00</text>
<text x="1219.7" y="410.8" font-family="Liberation Sans, sans-serif" font-size="12" fill="#131722" stroke="#131722" stroke-width="0.25" text-anchor="start" font-weight="normal" textLength="31" lengthAdjust="spacingAndGlyphs">84.00</text>
<text x="1219.7" y="245.8" font-family="Liberation Sans, sans-serif" font-size="12" fill="#131722" stroke="#131722" stroke-width="0.25" text-anchor="start" font-weight="normal" textLength="31" lengthAdjust="spacingAndGlyphs">89.00</text>
<text x="1219.7" y="212.8" font-family="Liberation Sans, sans-serif" font-size="12" fill="#131722" stroke="#131722" stroke-width="0.25" text-anchor="start" font-weight="normal" textLength="31" lengthAdjust="spacingAndGlyphs">90.00</text>
<text x="1219.7" y="179.8" font-family="Liberation Sans, sans-serif" font-size="12" fill="#131722" stroke="#131722" stroke-width="0.25" text-anchor="start" font-weight="normal" textLength="31" lengthAdjust="spacingAndGlyphs">91.00</text>
<text x="1219.7" y="146.8" font-family="Liberation Sans, sans-serif" font-size="12" fill="#131722" stroke="#131722" stroke-width="0.25" text-anchor="start" font-weight="normal" textLength="31" lengthAdjust="spacingAndGlyphs">92.00</text>
<text x="1219.7" y="113.8" font-family="Liberation Sans, sans-serif" font-size="12" fill="#131722" stroke="#131722" stroke-width="0.25" text-anchor="start" font-weight="normal" textLength="31" lengthAdjust="spacingAndGlyphs">93.00</text>
<text x="1219.7" y="80.8" font-family="Liberation Sans, sans-serif" font-size="12" fill="#131722" stroke="#131722" stroke-width="0.25" text-anchor="start" font-weight="normal" textLength="31" lengthAdjust="spacingAndGlyphs">94.00</text>
<text x="1219.7" y="47.8" font-family="Liberation Sans, sans-serif" font-size="12" fill="#131722" stroke="#131722" stroke-width="0.25" text-anchor="start" font-weight="normal" textLength="31" lengthAdjust="spacingAndGlyphs">95.00</text>
<text x="1219.7" y="511.3" font-family="Liberation Sans, sans-serif" font-size="12" fill="#131722" stroke="#131722" stroke-width="0.25" text-anchor="start" font-weight="normal" textLength="31" lengthAdjust="spacingAndGlyphs">60.00</text>
<rect x="1211" y="182" width="45.2" height="18.8" fill="#26c6da"/>
<text x="1220.3" y="196.2" font-family="Liberation Sans, sans-serif" font-size="12" fill="#131722" stroke="#131722" stroke-width="0.25" text-anchor="start" font-weight="normal" textLength="30.5" lengthAdjust="spacingAndGlyphs">90.52</text>
<rect x="1211" y="243" width="45.2" height="18.0" fill="#2196f3"/>
<text x="1220.3" y="256.8" font-family="Liberation Sans, sans-serif" font-size="12" fill="#ffffff" stroke="#ffffff" stroke-width="0.25" text-anchor="start" font-weight="normal" textLength="30.5" lengthAdjust="spacingAndGlyphs">88.60</text>
<rect x="1211" y="261" width="45.2" height="18.0" fill="#ff6d00"/>
<text x="1220.3" y="274.8" font-family="Liberation Sans, sans-serif" font-size="12" fill="#ffffff" stroke="#ffffff" stroke-width="0.25" text-anchor="start" font-weight="normal" textLength="30.5" lengthAdjust="spacingAndGlyphs">87.20</text>
<rect x="1211" y="279" width="45.2" height="18.5" fill="#f7a1a7"/>
<text x="1220.3" y="293.1" font-family="Liberation Sans, sans-serif" font-size="12" fill="#131722" stroke="#131722" stroke-width="0.25" text-anchor="start" font-weight="normal" textLength="30.5" lengthAdjust="spacingAndGlyphs">86.43</text>
<rect x="1211" y="297.5" width="45.2" height="17.0" fill="#801922"/>
<text x="1220.3" y="310.8" font-family="Liberation Sans, sans-serif" font-size="12" fill="#ffffff" stroke="#ffffff" stroke-width="0.25" text-anchor="start" font-weight="normal" textLength="30.5" lengthAdjust="spacingAndGlyphs">85.70</text>
<rect x="1211" y="314.5" width="45.2" height="18.3" fill="#a5d6a7"/>
<text x="1220.3" y="328.4" font-family="Liberation Sans, sans-serif" font-size="12" fill="#131722" stroke="#131722" stroke-width="0.25" text-anchor="start" font-weight="normal" textLength="30.5" lengthAdjust="spacingAndGlyphs">85.36</text>
<rect x="1211" y="332.8" width="45.2" height="17.2" fill="#2196f3"/>
<text x="1220.3" y="346.2" font-family="Liberation Sans, sans-serif" font-size="12" fill="#ffffff" stroke="#ffffff" stroke-width="0.25" text-anchor="start" font-weight="normal" textLength="30.5" lengthAdjust="spacingAndGlyphs">85.03</text>
<rect x="1211" y="350" width="45.2" height="18.8" fill="#089981"/>
<text x="1220.3" y="364.2" font-family="Liberation Sans, sans-serif" font-size="12" fill="#ffffff" stroke="#ffffff" stroke-width="0.25" text-anchor="start" font-weight="normal" textLength="30.5" lengthAdjust="spacingAndGlyphs">84.89</text>
<rect x="1211" y="368.8" width="45.2" height="17.2" fill="#43a047"/>
<text x="1220.3" y="382.2" font-family="Liberation Sans, sans-serif" font-size="12" fill="#ffffff" stroke="#ffffff" stroke-width="0.25" text-anchor="start" font-weight="normal" textLength="30.5" lengthAdjust="spacingAndGlyphs">84.89</text>
<rect x="1211" y="542" width="45.2" height="18.6" fill="#7e57c2"/>
<text x="1220.3" y="556.1" font-family="Liberation Sans, sans-serif" font-size="12" fill="#ffffff" stroke="#ffffff" stroke-width="0.25" text-anchor="start" font-weight="normal" textLength="30.5" lengthAdjust="spacingAndGlyphs">40.22</text>
<text x="111" y="604" font-family="Liberation Sans, sans-serif" font-size="12" fill="#131722" stroke="#131722" stroke-width="0.25" text-anchor="middle" font-weight="normal">Sep</text>
<text x="255.5" y="604" font-family="Liberation Sans, sans-serif" font-size="12" fill="#131722" stroke="#131722" stroke-width="0.25" text-anchor="middle" font-weight="normal">Oct</text>
<text x="412.8" y="604" font-family="Liberation Sans, sans-serif" font-size="12" fill="#131722" stroke="#131722" stroke-width="0.25" text-anchor="middle" font-weight="normal">Nov</text>
<text x="557" y="604" font-family="Liberation Sans, sans-serif" font-size="12" fill="#131722" stroke="#131722" stroke-width="0.25" text-anchor="middle" font-weight="normal">Dec</text>
<text x="708" y="604" font-family="Liberation Sans, sans-serif" font-size="12" fill="#131722" stroke="#131722" stroke-width="0.25" text-anchor="middle" font-weight="bold" textLength="29.2" lengthAdjust="spacingAndGlyphs">2025</text>
<text x="865.5" y="604" font-family="Liberation Sans, sans-serif" font-size="12" fill="#131722" stroke="#131722" stroke-width="0.25" text-anchor="middle" font-weight="normal">Feb</text>
<text x="1003" y="604" font-family="Liberation Sans, sans-serif" font-size="12" fill="#131722" stroke="#131722" stroke-width="0.25" text-anchor="middle" font-weight="normal">Mar</text>
<text x="1091.5" y="604" font-family="Liberation Sans, sans-serif" font-size="12" fill="#131722" stroke="#131722" stroke-width="0.25" text-anchor="middle" font-weight="normal">16</text>
<text x="1201" y="604" font-family="Liberation Sans, sans-serif" font-size="12" fill="#131722" stroke="#131722" stroke-width="0.25" text-anchor="middle" font-weight="normal">Apr</text>
<text x="18.5" y="29.6" font-family="Liberation Sans, sans-serif" font-size="12" fill="#131722" stroke="#131722" stroke-width="0.25" text-anchor="start" font-weight="normal" textLength="68.2" lengthAdjust="spacingAndGlyphs">NZD/JPY, 1D</text>
<text x="96" y="29.6" font-family="Liberation Sans, sans-serif" font-size="12" fill="#131722" stroke="#131722" stroke-width="0.25" text-anchor="start" font-weight="normal" textLength="8" lengthAdjust="spacingAndGlyphs">O</text>
<text x="104.8" y="29.6" font-family="Liberation Sans, sans-serif" font-size="12" fill="#089981" stroke="#089981" stroke-width="0.25" text-anchor="start" font-weight="normal" textLength="30.1" lengthAdjust="spacingAndGlyphs">83.90</text>
<text x="143.5" y="29.6" font-family="Liberation Sans, sans-serif" font-size="12" fill="#131722" stroke="#131722" stroke-width="0.25" text-anchor="start" font-weight="normal" textLength="7.5" lengthAdjust="spacingAndGlyphs">H</text>
<text x="151.4" y="29.6" font-family="Liberation Sans, sans-serif" font-size="12" fill="#089981" stroke="#089981" stroke-width="0.25" text-anchor="start" font-weight="normal" textLength="30.1" lengthAdjust="spacingAndGlyphs">84.91</text>
<text x="190.5" y="29.6" font-family="Liberation Sans, sans-serif" font-size="12" fill="#131722" stroke="#131722" stroke-width="0.25" text-anchor="start" font-weight="normal" textLength="6" lengthAdjust="spacingAndGlyphs">L</text>
<text x="197.3" y="29.6" font-family="Liberation Sans, sans-serif" font-size="12" fill="#089981" stroke="#089981" stroke-width="0.25" text-anchor="start" font-weight="normal" textLength="29.5" lengthAdjust="spacingAndGlyphs">83.15</text>
<text x="235.2" y="29.6" font-family="Liberation Sans, sans-serif" font-size="12" fill="#131722" stroke="#131722" stroke-width="0.25" text-anchor="start" font-weight="normal" textLength="7.3" lengthAdjust="spacingAndGlyphs">C</text>
<text x="243" y="29.6" font-family="Liberation Sans, sans-serif" font-size="12" fill="#089981" stroke="#089981" stroke-width="0.25" text-anchor="start" font-weight="normal" textLength="30.2" lengthAdjust="spacingAndGlyphs">84.89</text>
<text x="281.8" y="29.6" font-family="Liberation Sans, sans-serif" font-size="12" fill="#089981" stroke="#089981" stroke-width="0.25" text-anchor="start" font-weight="normal" textLength="30.5" lengthAdjust="spacingAndGlyphs">+1.00</text>
<text x="317.7" y="29.6" font-family="Liberation Sans, sans-serif" font-size="12" fill="#089981" stroke="#089981" stroke-width="0.25" text-anchor="start" font-weight="normal" textLength="46" lengthAdjust="spacingAndGlyphs">(+1.19%)</text>
<text x="18.5" y="47.6" font-family="Liberation Sans, sans-serif" font-size="12" fill="#131722" stroke="#131722" stroke-width="0.25" text-anchor="start" font-weight="normal" textLength="250.4" lengthAdjust="spacingAndGlyphs">Moving Average Triple (50, 100, 200, Simple)</text>
<text x="278" y="47.6" font-family="Liberation Sans, sans-serif" font-size="12" fill="#ff6d00" stroke="#ff6d00" stroke-width="0.25" text-anchor="start" font-weight="normal" textLength="30.6" lengthAdjust="spacingAndGlyphs">87.20</text>
<text x="316.7" y="47.6" font-family="Liberation Sans, sans-serif" font-size="12" fill="#2196f3" stroke="#2196f3" stroke-width="0.25" text-anchor="start" font-weight="normal" textLength="30.3" lengthAdjust="spacingAndGlyphs">88.60</text>
<text x="355.2" y="47.6" font-family="Liberation Sans, sans-serif" font-size="12" fill="#26c6da" stroke="#26c6da" stroke-width="0.25" text-anchor="start" font-weight="normal" textLength="30.1" lengthAdjust="spacingAndGlyphs">90.52</text>
<text x="18.5" y="65.7" font-family="Liberation Sans, sans-serif" font-size="12" fill="#131722" stroke="#131722" stroke-width="0.25" text-anchor="start" font-weight="normal" textLength="155.6" lengthAdjust="spacingAndGlyphs">Ichimoku (9, 26, 52, 26, 26)</text>
<text x="183.1" y="65.7" font-family="Liberation Sans, sans-serif" font-size="12" fill="#2196f3" stroke="#2196f3" stroke-width="0.25" text-anchor="start" font-weight="normal" textLength="29.7" lengthAdjust="spacingAndGlyphs">85.03</text>
<text x="221.9" y="65.7" font-family="Liberation Sans, sans-serif" font-size="12" fill="#801922" stroke="#801922" stroke-width="0.25" text-anchor="start" font-weight="normal" textLength="29.7" lengthAdjust="spacingAndGlyphs">85.70</text>
<text x="260.2" y="65.7" font-family="Liberation Sans, sans-serif" font-size="12" fill="#43a047" stroke="#43a047" stroke-width="0.25" text-anchor="start" font-weight="normal" textLength="30.2" lengthAdjust="spacingAndGlyphs">84.89</text>
<text x="299" y="65.7" font-family="Liberation Sans, sans-serif" font-size="12" fill="#a5d6a7" stroke="#a5d6a7" stroke-width="0.25" text-anchor="start" font-weight="normal" textLength="30.3" lengthAdjust="spacingAndGlyphs">85.36</text>
<text x="337.4" y="65.7" font-family="Liberation Sans, sans-serif" font-size="12" fill="#f7a1a7" stroke="#f7a1a7" stroke-width="0.25" text-anchor="start" font-weight="normal" textLength="30.2" lengthAdjust="spacingAndGlyphs">86.43</text>
<text x="18.6" y="492.6" font-family="Liberation Sans, sans-serif" font-size="12" fill="#131722" stroke="#131722" stroke-width="0.25" text-anchor="start" font-weight="normal" textLength="41.4" lengthAdjust="spacingAndGlyphs">RSI (14)</text>
<text x="69" y="492.6" font-family="Liberation Sans, sans-serif" font-size="12" fill="#7e57c2" stroke="#7e57c2" stroke-width="0.25" text-anchor="start" font-weight="normal" textLength="30" lengthAdjust="spacingAndGlyphs">40.22</text>
<g fill="#131722">
<path d="M10 627 H18.9 V637.2 H14.3 V630.6 H10 Z"/>
<circle cx="21.7" cy="628.8" r="1.8"/>
<path d="M25.4 627 H30.4 L26.2 637.2 H21.4 Z"/>
</g>
<text x="34.1" y="637.4" font-family="Liberation Sans, sans-serif" font-size="13.5" fill="#131722" stroke="#131722" stroke-width="0.25" text-anchor="start" font-weight="normal" textLength="73.9" lengthAdjust="spacingAndGlyphs">TradingView</text>
</svg>
</body></html>
